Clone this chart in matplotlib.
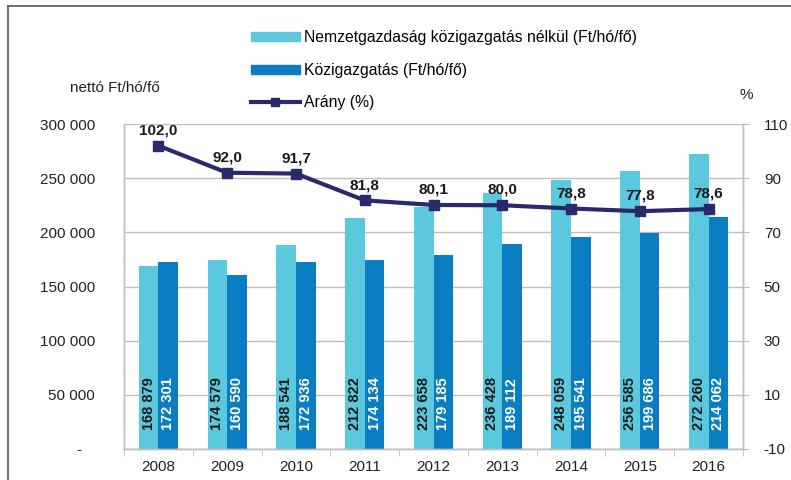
import matplotlib
matplotlib.use("Agg")
import matplotlib.pyplot as plt
from matplotlib.lines import Line2D
from matplotlib.patches import Patch
import numpy as np

plt.rcParams['font.family'] = ['Liberation Sans', 'DejaVu Sans']

years = ["2008", "2009", "2010", "2011", "2012", "2013", "2014", "2015", "2016"]
nemzetgazdasag = [168879, 174579, 188541, 212822, 223658, 236428, 248059, 256585, 272260]
kozigazgatas = [172301, 160590, 172936, 174134, 179185, 189112, 195541, 199686, 214062]
arany = [102.0, 92.0, 91.7, 81.8, 80.1, 80.0, 78.8, 77.8, 78.6]

left_ticks = [0, 50000, 100000, 150000, 200000, 250000, 300000]
left_labels = ["-   ", "50 000", "100 000", "150 000", "200 000", "250 000", "300 000"]
right_ticks = [-10, 10, 30, 50, 70, 90, 110]

c_light = "#5BC8DD"
c_dark = "#0A7DC3"
c_line = "#29296B"
grid_c = "#BEBEBE"
txt_c = "#222222"
FS = 11

def fmt(v):
    return f"{v:,}".replace(",", " ")

fig = plt.figure(figsize=(7.91, 4.80), dpi=100)
ax = fig.add_axes([124/791, 1-449/480, (743-124)/791, (449-124)/480])
ax2 = ax.twinx()

x = np.arange(len(years))
w = 0.285
ax.bar(x - w/2, nemzetgazdasag, w, color=c_light, zorder=2)
ax.bar(x + w/2, kozigazgatas, w, color=c_dark, zorder=2)

for xi, v in zip(x, nemzetgazdasag):
    ax.annotate(fmt(v), (xi - w/2, 0), xytext=(0, 14), textcoords="offset points",
                rotation=90, ha="center", va="bottom", fontsize=10.5, fontweight="bold", color="#1a1a1a", zorder=3)
for xi, v in zip(x, kozigazgatas):
    ax.annotate(fmt(v), (xi + w/2, 0), xytext=(0, 14), textcoords="offset points",
                rotation=90, ha="center", va="bottom", fontsize=10.5, fontweight="bold", color="white", zorder=3)

ax.set_ylim(0, 300000)
ax.set_xlim(-0.5, len(years) - 0.5)
ax.set_yticks(left_ticks)
ax.set_yticklabels(left_labels, fontsize=FS, color=txt_c)
ax.yaxis.grid(True, color=grid_c, linewidth=1, zorder=0)
ax.set_axisbelow(True)
ax.set_xticks(x)
ax.set_xticklabels(years, fontsize=FS, color=txt_c)
ax.tick_params(axis="x", length=0, pad=8)
ax.set_xticks(np.arange(-0.5, len(years), 1), minor=True)
ax.tick_params(axis="x", which="minor", length=5, color=grid_c, direction="out")
ax.tick_params(axis="y", length=0, pad=21)

ax2.plot(x, arany, color=c_line, linewidth=3, marker="s", markersize=7, zorder=5)
for xi, v in zip(x, arany):
    ax2.annotate(f"{v:.1f}".replace(".", ","), (xi, v), xytext=(0, 6), textcoords="offset points",
                 ha="center", va="bottom", fontsize=FS, fontweight="bold", color="#1a1a1a")
ax2.set_ylim(-10, 110)
ax2.set_yticks(right_ticks)
ax2.set_yticklabels([str(t) for t in right_ticks], fontsize=FS, color=txt_c)
ax2.tick_params(axis="y", length=4, color=grid_c, direction="out", pad=11)

for a in (ax, ax2):
    a.spines["top"].set_visible(False)
    for s in ("left", "right", "bottom"):
        a.spines[s].set_color(grid_c)
        a.spines[s].set_linewidth(1)

fig.text(70/791, 1-88/480, "nettó Ft/hó/fő", fontsize=FS, color=txt_c, va="center", ha="left")
fig.text(746/791, 1-95/480, "%", fontsize=FS, color=txt_c, va="center", ha="center")

handles = [Patch(color=c_light), Patch(color=c_dark),
           Line2D([0], [0], color=c_line, linewidth=3, marker="s", markersize=6)]
labels = ["Nemzetgazdaság közigazgatás nélkül (Ft/hó/fő)", "Közigazgatás (Ft/hó/fő)", "Arány (%)"]
fig.legend(handles, labels, loc="upper left", bbox_to_anchor=(237/791, 1-16/480),
           frameon=False, fontsize=11.3, handlelength=3.1, handleheight=0.5,
           labelspacing=1.12, handletextpad=0.25)

fig.add_artist(Line2D([8/791, 8/791], [0, 1-6/480], transform=fig.transFigure, color="#555555", linewidth=1.2))
fig.add_artist(Line2D([8/791, 1], [1-6/480, 1-6/480], transform=fig.transFigure, color="#555555", linewidth=1.2))

fig.savefig("out.png", dpi=100)
